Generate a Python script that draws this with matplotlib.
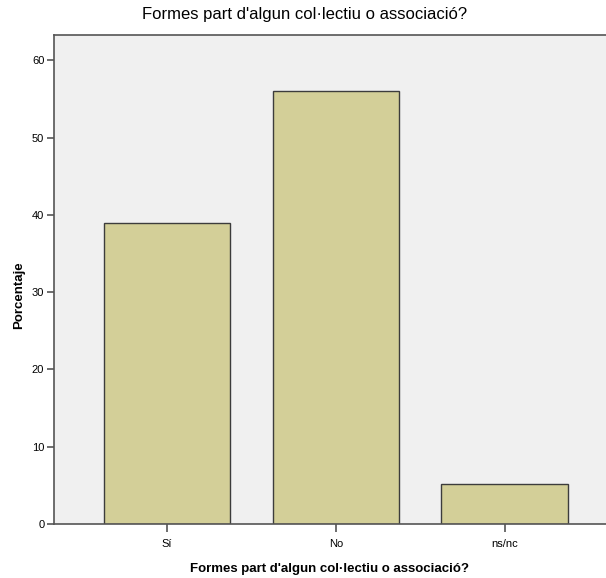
import matplotlib.pyplot as plt

# datos del gráfico
categorias = ["Sí", "No", "ns/nc"]
porcentajes = [38.9, 56.0, 5.2]
ticks_y = [0, 10, 20, 30, 40, 50, 60]

titulo = "Formes part d'algun col·lectiu o associació?"

plt.rcParams['font.family'] = ['Liberation Sans', 'DejaVu Sans']

fig = plt.figure(figsize=(6.06, 5.78), dpi=100)
ax = fig.add_axes([54 / 606, 54 / 578, 1 - 54 / 606, (524 - 35) / 578])
ax.set_facecolor("#F0F0F0")

pos = list(range(len(categorias)))
ax.bar(pos, porcentajes, width=0.75, color="#D3CF98", edgecolor="#3C3C3C", linewidth=1.0)

ax.set_xlim(-0.669, 2.6)
ax.set_ylim(0, 63.3)
ax.set_xticks(pos)
ax.set_xticklabels(categorias, fontsize=8)
ax.set_yticks(ticks_y)
ax.set_yticklabels([str(t) for t in ticks_y], fontsize=8)
ax.tick_params(axis="y", direction="out", length=5, width=1.2, color="#555555", pad=2)
ax.tick_params(axis="x", direction="out", length=6, width=1.2, color="#555555", pad=5)

ax.spines["right"].set_visible(False)
for s in ["left", "top", "bottom"]:
    ax.spines[s].set_color("#555555")
    ax.spines[s].set_linewidth(1.2)

fig.text(305 / 606, 1 - 15 / 578, titulo, ha="center", va="center", fontsize=12)
ax.set_xlabel(titulo, fontsize=9.5, fontweight="bold", labelpad=10)
ax.set_ylabel("Porcentaje", fontsize=9.5, fontweight="bold")
ax.yaxis.set_label_coords(-29 / 552, (524 - 295) / 489)

fig.savefig("out.png", dpi=100)
